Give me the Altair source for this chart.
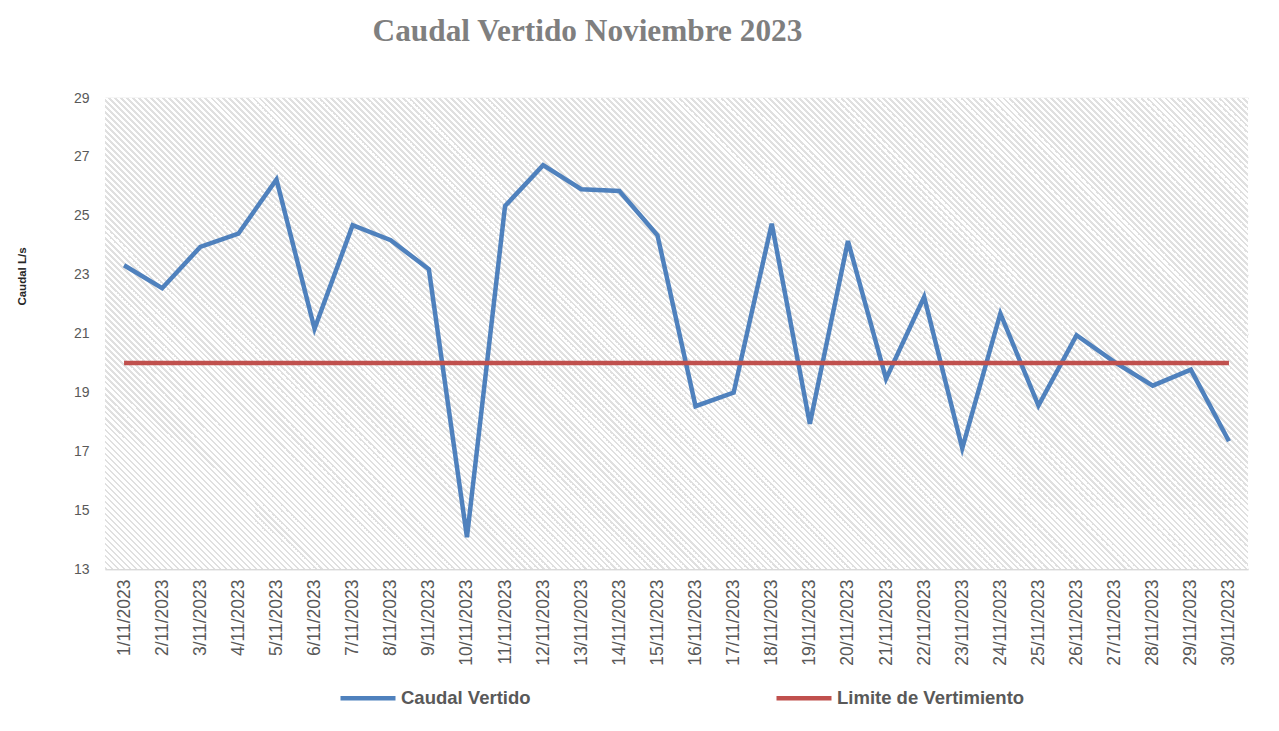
import altair as alt
import pandas as pd

fechas = [
    "1/11/2023", "2/11/2023", "3/11/2023", "4/11/2023", "5/11/2023",
    "6/11/2023", "7/11/2023", "8/11/2023", "9/11/2023", "10/11/2023",
    "11/11/2023", "12/11/2023", "13/11/2023", "14/11/2023", "15/11/2023",
    "16/11/2023", "17/11/2023", "18/11/2023", "19/11/2023", "20/11/2023",
    "21/11/2023", "22/11/2023", "23/11/2023", "24/11/2023", "25/11/2023",
    "26/11/2023", "27/11/2023", "28/11/2023", "29/11/2023", "30/11/2023",
]
caudal = [
    23.32, 22.54, 23.94, 24.39, 26.23, 21.16, 24.68, 24.17, 23.18, 14.08,
    25.33, 26.72, 25.90, 25.84, 24.34, 18.53, 18.99, 24.73, 17.93, 24.14,
    19.46, 22.24, 17.10, 21.68, 18.55, 20.94, 20.03, 19.23, 19.77, 17.34,
]
limite = [
    20, 20, 20, 20, 20, 20, 20, 20, 20, 20,
    20, 20, 20, 20, 20, 20, 20, 20, 20, 20,
    20, 20, 20, 20, 20, 20, 20, 20, 20, 20,
]
series = ["Caudal Vertido", "Limite de Vertimiento"]
colores = ["#4f81bd", "#c0504d"]
y_ticks = [13, 15, 17, 19, 21, 23, 25, 27, 29]

df = pd.DataFrame({
    "fecha": fechas + fechas,
    "valor": caudal + limite,
    "serie": [series[0]] * len(fechas) + [series[1]] * len(fechas),
})

# plot size
W, H = 1143, 471

# hatched background approximated with a striped linear gradient (45 deg, "\" lines)
r = H / W
k = (1 + r) / (1 + r * r)
period_px = 6.0
N = int(round(W * (1 + r) / period_px))
stripe = "#e0e0e0"
stops = []
for i in range(N):
    a = i / N
    b = (i + 0.4) / N
    c = (i + 1) / N
    stops += [
        {"offset": a, "color": stripe},
        {"offset": b, "color": stripe},
        {"offset": b, "color": "#ffffff"},
        {"offset": c, "color": "#ffffff"},
    ]
gradient = alt.LinearGradient(
    gradient="linear", x1=0, y1=1, x2=k, y2=1 - k * r,
    stops=[alt.GradientStop(offset=s["offset"], color=s["color"]) for s in stops],
)

background = alt.Chart(pd.DataFrame({"bg": [0]})).mark_rect(fill=gradient, strokeWidth=0).encode(
    x=alt.value(0), x2=alt.value("width"), y=alt.value(0), y2=alt.value("height")
)

lines = alt.Chart(df).mark_line(strokeWidth=4.5).encode(
    x=alt.X(
        "fecha:N",
        sort=fechas,
        scale=alt.Scale(type="point", padding=0.5),
        axis=alt.Axis(
            title=None,
            labelAngle=-90,
            labelFont="Liberation Sans",
            labelFontSize=17.5,
            labelColor="#595959",
            labelPadding=10,
            ticks=False,
            grid=False,
            domain=True,
            domainColor="#d9d9d9",
            domainWidth=1.5,
            labelOverlap=False,
        ),
    ),
    y=alt.Y(
        "valor:Q",
        scale=alt.Scale(domain=[13, 29], nice=False, zero=False),
        axis=alt.Axis(
            values=y_ticks,
            title="Caudal L/s",
            titleFont="Liberation Sans",
            titleFontSize=11.5,
            titleFontWeight="bold",
            titleColor="#262626",
            titleAngle=-90,
            titleX=-83,
            titleY=178,
            titleAlign="center",
            titleBaseline="middle",
            labelFont="Liberation Sans",
            labelFontSize=14,
            labelColor="#595959",
            labelPadding=16,
            ticks=False,
            domain=False,
            grid=True,
            gridColor="#dadada",
            gridWidth=1.5,
        ),
    ),
    color=alt.Color(
        "serie:N",
        scale=alt.Scale(domain=series, range=colores),
        legend=alt.Legend(
            title=None,
            orient="none",
            legendX=233,
            legendY=570,
            direction="horizontal",
            symbolType="stroke",
            symbolSize=3025,
            symbolStrokeWidth=4.5,
            labelFont="Liberation Sans",
            labelFontSize=18.5,
            labelFontWeight="bold",
            labelColor="#595959",
            labelOffset=3,
            labelLimit=400,
            columnPadding=236,
            padding=0,
        ),
    ),
)

chart = alt.layer(background, lines).properties(
    width=W,
    height=H,
    autosize=alt.AutoSizeParams(type="none"),
    padding={"left": 97, "top": 90, "right": 20, "bottom": 150},
    title=alt.TitleParams(
        "Caudal Vertido Noviembre 2023",
        font="Liberation Serif",
        fontSize=31.3,
        fontWeight="bold",
        color="#7f7f7f",
        anchor="middle",
        frame="group",
        dx=-89,
        offset=19,
        baseline="alphabetic",
    ),
).configure(background="#ffffff").configure_view(stroke=None)

chart.save("out.html", embed_options={"renderer": "svg", "actions": False})
